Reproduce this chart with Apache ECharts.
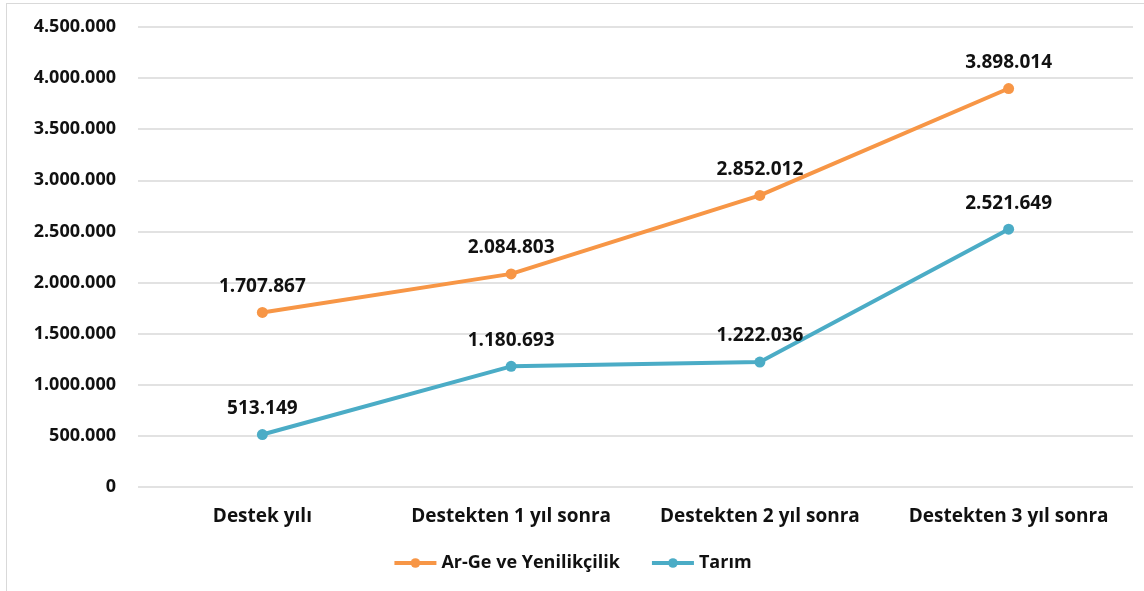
<!DOCTYPE html>
<html>
<head>
<meta charset="utf-8">
<script src="https://cdn.jsdelivr.net/npm/echarts@6/dist/echarts.min.js"></script>
<style>
  html, body { margin: 0; padding: 0; background: #fff; }
  #frame { position: absolute; left: 6px; top: 3px; width: 1150px; height: 600px; border-left: 1px solid #d9d9d9; border-top: 1px solid #d9d9d9; }
  #chart { position: absolute; left: 0; top: 0; width: 1144px; height: 591px; }
</style>
</head>
<body>
<div id="frame"></div>
<div id="chart"></div>
<script>
const categories = ["Destek yılı", "Destekten 1 yıl sonra", "Destekten 2 yıl sonra", "Destekten 3 yıl sonra"];
const argeValues = [1707867, 2084803, 2852012, 3898014];
const tarimValues = [513149, 1180693, 1222036, 2521649];

const fmt = (v) => String(v).replace(/\B(?=(\d{3})+(?!\d))/g, ".");
const font = "'Open Sans', 'Noto Sans', sans-serif";

const chart = echarts.init(document.getElementById("chart"));

function lineSeries(name, data, color) {
  return {
    type: "line",
    name,
    data,
    symbol: "circle",
    symbolSize: 11,
    lineStyle: { color, width: 4 },
    itemStyle: { color },
    label: {
      show: true,
      position: "top",
      distance: 11,
      formatter: (p) => fmt(p.value),
      color: "#111",
      fontFamily: font,
      fontWeight: 700,
      fontSize: 19,
    },
  };
}

chart.setOption({
  animation: false,
  grid: { left: 138, right: 11, top: 27, bottom: 104, containLabel: false },
  xAxis: {
    type: "category",
    data: categories,
    axisLine: { show: false },
    axisTick: { show: false },
    axisLabel: { interval: 0, hideOverlap: false, color: "#111", fontFamily: font, fontWeight: 700, fontSize: 19, margin: 20 },
  },
  yAxis: {
    type: "value",
    min: 0,
    max: 4500000,
    interval: 500000,
    axisLine: { show: false },
    axisTick: { show: false },
    axisLabel: { color: "#111", fontFamily: font, fontWeight: 700, fontSize: 18, margin: 22, formatter: (v) => fmt(v) },
    splitLine: { lineStyle: { color: "#d9d9d9", width: 1.5 } },
  },
  legend: {
    bottom: 14,
    left: "center",
    itemWidth: 42,
    itemHeight: 12,
    itemGap: 30,
    lineStyle: { width: 4 },
    textStyle: { color: "#111", fontFamily: font, fontWeight: 700, fontSize: 18 },
    data: ["Ar-Ge ve Yenilikçilik", "Tarım"],
  },
  series: [
    lineSeries("Ar-Ge ve Yenilikçilik", argeValues, "#F79646"),
    lineSeries("Tarım", tarimValues, "#4BACC6"),
  ],
});
</script>
</body>
</html>
